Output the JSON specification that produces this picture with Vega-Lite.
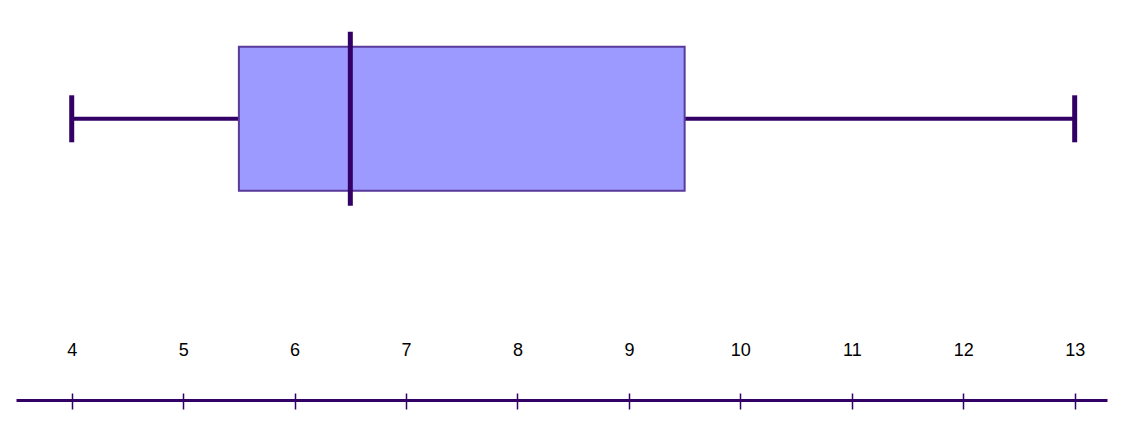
{
  "$schema": "https://vega.github.io/schema/vega-lite/v6.json",
  "width": 1091,
  "height": 400,
  "autosize": "none",
  "padding": {"left": 16, "top": 0, "right": 18, "bottom": 39},
  "background": "white",
  "config": {
    "view": {"stroke": null}
  },
  "data": {"values": [{"group": "A", "min": 4, "q1": 5.5, "median": 6.5, "q3": 9.5, "max": 13}]},
  "layer": [
    {
      "mark": {"type": "rule", "color": "#330066", "strokeWidth": 4},
      "encoding": {
        "x": {
          "field": "min",
          "type": "quantitative",
          "scale": {"domain": [3.5, 13.29], "nice": false, "zero": false},
          "axis": {
            "values": [4, 5, 6, 7, 8, 9, 10, 11, 12, 13],
            "format": "d",
            "grid": false,
            "title": null,
            "domainColor": "#330066",
            "domainWidth": 3,
            "tickColor": "#330066",
            "tickWidth": 1.5,
            "tickSize": 8,
            "labelFont": "Liberation Sans",
            "labelFontSize": 18,
            "labelColor": "#000000",
            "labelBaseline": "alphabetic",
            "labelPadding": -52.5,
            "labelFlush": false,
            "encoding": {"ticks": {"y": {"value": -7}, "y2": {"value": 9}}}
          }
        },
        "x2": {"field": "max"},
        "y": {"field": "group", "type": "nominal", "axis": null, "scale": {"type": "point", "align": 0.297}}
      }
    },
    {
      "mark": {"type": "bar", "size": 144, "fill": "#9c9aff", "stroke": "#5a3a9a", "strokeWidth": 2, "opacity": 1},
      "encoding": {
        "x": {"field": "q1", "type": "quantitative", "scale": {"domain": [3.5, 13.29], "nice": false, "zero": false}},
        "x2": {"field": "q3"},
        "y": {"field": "group", "type": "nominal", "axis": null, "scale": {"type": "point", "align": 0.297}}
      }
    },
    {
      "mark": {"type": "tick", "orient": "vertical", "size": 47, "thickness": 5, "color": "#330066", "opacity": 1},
      "encoding": {
        "x": {"field": "min", "type": "quantitative", "scale": {"domain": [3.5, 13.29], "nice": false, "zero": false}},
        "y": {"field": "group", "type": "nominal", "axis": null, "scale": {"type": "point", "align": 0.297}}
      }
    },
    {
      "mark": {"type": "tick", "orient": "vertical", "size": 47, "thickness": 5, "color": "#330066", "opacity": 1},
      "encoding": {
        "x": {"field": "max", "type": "quantitative", "scale": {"domain": [3.5, 13.29], "nice": false, "zero": false}},
        "y": {"field": "group", "type": "nominal", "axis": null, "scale": {"type": "point", "align": 0.297}}
      }
    },
    {
      "mark": {"type": "tick", "orient": "vertical", "size": 174, "thickness": 5, "color": "#330066", "opacity": 1},
      "encoding": {
        "x": {"field": "median", "type": "quantitative", "scale": {"domain": [3.5, 13.29], "nice": false, "zero": false}},
        "y": {"field": "group", "type": "nominal", "axis": null, "scale": {"type": "point", "align": 0.297}}
      }
    }
  ]
}
